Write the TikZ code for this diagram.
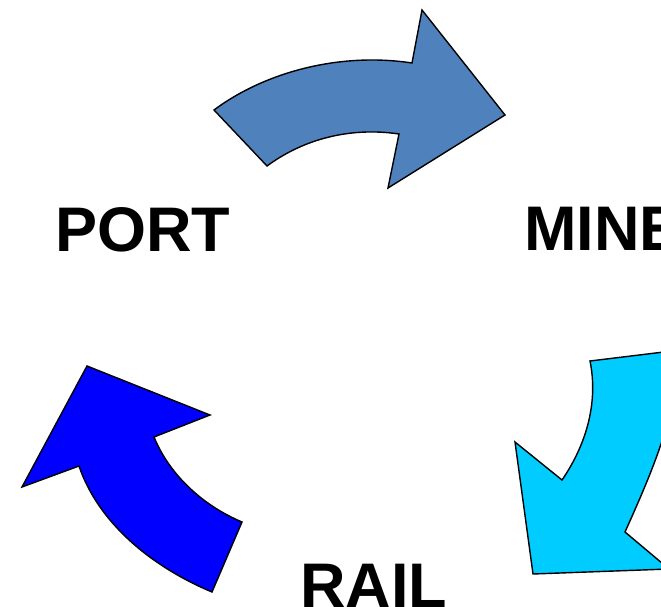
\documentclass[tikz,border=0pt]{standalone}
\usepackage{fontspec}
\setmainfont{Liberation Sans}
\usetikzlibrary{positioning}

\definecolor{portblue}{HTML}{4F81BD}
\definecolor{minecyan}{HTML}{00CCFF}
\definecolor{railblue}{HTML}{0000FF}

\tikzset{
	bigarrow/.style={draw=black, line width=1.4pt, line join=miter},
	place/.style={font=\fontsize{63}{63}\selectfont\bfseries, inner sep=0pt, anchor=base west}
}

\begin{document}
\begin{tikzpicture}[x=1pt,y=-1pt]
			\useasboundingbox (0,0) rectangle (661,607);
			\clip (0,0) rectangle (661,607);

			% port -> mine
			\path[bigarrow, fill=portblue] (214,110) -- (267,166)
				.. controls (305,138) and (352,127) .. (399,134)
				-- (388,188) -- (505,115) -- (422,10) -- (412,63)
				.. controls (340,52) and (265,72) .. cycle;

			% mine -> rail
			\path[bigarrow, fill=minecyan] (590,361) -- (672,351)
				.. controls (678,400) and (668,437) .. (625,532)
				-- (669,569) -- (533,574) -- (515,442) -- (562,480)
				.. controls (588,442) and (598,400) .. cycle;

			% rail -> port
			\path[bigarrow, fill=railblue] (242,522) -- (212,592)
				.. controls (150,566) and (98,522) .. (79,466)
				-- (22,487) -- (87,366) -- (210,415) -- (154,437)
				.. controls (170,476) and (204,506) .. cycle;

			\node[place] (port) at (55,251) {PORT};
			\node[place] (mine) at (524,250) {MINE};
			\node[place] (rail) at (300,607) {RAIL};

		\end{tikzpicture}
\end{document}
